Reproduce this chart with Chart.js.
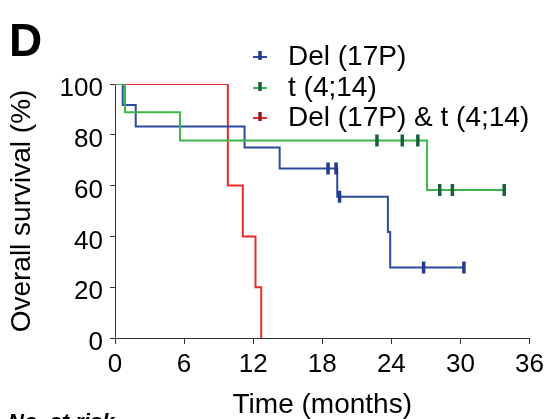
<!DOCTYPE html>
<html>
<head>
<meta charset="utf-8">
<script src="https://cdn.jsdelivr.net/npm/chart.js@4"></script>
<style>
    html, body { margin: 0; padding: 0; background: #fff; }
    #wrap { position: relative; width: 549px; height: 419px; }
</style>
</head>
<body>
<div id="wrap"><canvas id="km" width="549" height="419"></canvas></div>
<script>
const xTicks = [0, 6, 12, 18, 24, 30, 36];
const yTicks = [0, 20, 40, 60, 80, 100];
const seriesNames = ['Del (17P)', 't (4;14)', 'Del (17P) & t (4;14)'];

// Del (17P): step times and survival after each step
const delTime = [0, 0.67, 1.8, 11.25, 14.3, 19.3, 23.7, 23.9, 30.3];
const delSurv = [100, 91.7, 83.3, 75, 66.7, 55.6, 41.7, 27.8, 27.8];
const delCensorTime = [18.5, 19.2, 19.5, 26.8, 30.3];
const delCensorSurv = [66.7, 66.7, 55.6, 27.8, 27.8];

// t (4;14)
const tTime = [0, 0.87, 5.64, 27.1, 33.8];
const tSurv = [100, 88.9, 77.8, 58.3, 58.3];
const tCensorTime = [22.75, 24.95, 26.3, 28.2, 29.3, 33.8];
const tCensorSurv = [77.8, 77.8, 77.8, 58.3, 58.3, 58.3];

// Del (17P) & t (4;14)
const bothTime = [0, 9.8, 11.1, 12.2, 12.7];
const bothSurv = [100, 60, 40, 20, 0];

const FONT = '"Liberation Sans", Arial, sans-serif';
const colors = {
    blue: '#2c4a9e',
    blueTick: '#23388f',
    green: '#3cb54a',
    greenTick: '#16603a',
    red: '#ee2a2a',
    redTick: '#8e1c1c'
};

const pts = (xs, ys) => xs.map((x, i) => ({ x, y: ys[i] }));

const stepLine = (data, color, order) => ({
    data,
    showLine: true,
    stepped: true,
    borderColor: color,
    borderWidth: 2,
    pointRadius: 0,
    fill: false,
    order
});

const censor = (data, color) => ({
    data,
    showLine: false,
    pointStyle: 'line',
    rotation: 90,
    pointRadius: 6,
    pointBorderWidth: 3.5,
    pointBorderColor: color,
    pointBackgroundColor: color,
    order: 0
});

const extras = {
    id: 'extras',
    afterDraw: (chart) => {
        const c = chart.ctx;
        c.save();
        c.fillStyle = '#000';
        c.font = 'bold 46px ' + FONT;
        c.textBaseline = 'alphabetic';
        c.fillText('D', 9, 56);

        // legend
        const rows = [
            { y: 57, line: colors.blue, tick: colors.blueTick },
            { y: 88, line: colors.green, tick: colors.greenTick },
            { y: 118, line: colors.red, tick: colors.redTick }
        ];
        c.font = '28px ' + FONT;
        c.textBaseline = 'middle';
        rows.forEach((r, i) => {
            c.strokeStyle = r.line;
            c.lineWidth = 2;
            c.beginPath();
            c.moveTo(253, r.y);
            c.lineTo(267, r.y);
            c.stroke();
            c.strokeStyle = r.tick;
            c.lineWidth = 3.5;
            c.beginPath();
            c.moveTo(260, r.y - 6);
            c.lineTo(260, r.y + 3);
            c.stroke();
            c.fillStyle = '#000';
            c.fillText(seriesNames[i], 288, r.y);
        });

        c.font = 'italic bold 22px ' + FONT;
        c.textBaseline = 'alphabetic';
        c.fillText('No. at risk', 8, 429);
        c.restore();
    }
};

new Chart(document.getElementById('km'), {
    type: 'scatter',
    data: {
        datasets: [
            stepLine(pts(tTime, tSurv), colors.green, 1),
            stepLine(pts(delTime, delSurv), colors.blue, 2),
            stepLine(pts(bothTime, bothSurv), colors.red, 3),
            censor(pts(delCensorTime, delCensorSurv), colors.blueTick),
            censor(pts(tCensorTime, tCensorSurv), colors.greenTick)
        ]
    },
    options: {
        responsive: false,
        animation: false,
        devicePixelRatio: 1,
        layout: { padding: { left: 0, top: 84, right: 19, bottom: 0 } },
        plugins: { legend: { display: false }, tooltip: { enabled: false } },
        scales: {
            x: {
                type: 'linear',
                min: 0,
                max: 36,
                afterBuildTicks: s => { s.ticks = xTicks.map(v => ({ value: v })); },
                afterFit: s => { s.height = 81; },
                grid: { drawOnChartArea: false, drawTicks: true, tickLength: 6, color: '#333' },
                border: { display: true, color: '#333', width: 1 },
                ticks: { color: '#000', font: { family: FONT, size: 26 }, padding: 5, maxRotation: 0 },
                title: {
                    display: true,
                    text: 'Time (months)',
                    color: '#000',
                    font: { family: FONT, size: 28, lineHeight: 1 },
                    padding: { top: 0, bottom: 0 }
                }
            },
            y: {
                type: 'linear',
                min: 0,
                max: 100,
                afterBuildTicks: s => { s.ticks = yTicks.map(v => ({ value: v })); },
                afterFit: s => { s.width = 115; },
                grid: { drawOnChartArea: false, drawTicks: true, tickLength: 5, color: '#333' },
                border: { display: true, color: '#333', width: 1 },
                ticks: { color: '#000', font: { family: FONT, size: 26 }, padding: 7, labelOffset: 5 },
                title: {
                    display: true,
                    text: 'Overall survival (%)',
                    color: '#000',
                    font: { family: FONT, size: 28, lineHeight: 1 },
                    padding: { top: 8, bottom: 0 }
                }
            }
        }
    },
    plugins: [extras]
});
</script>
</body>
</html>
